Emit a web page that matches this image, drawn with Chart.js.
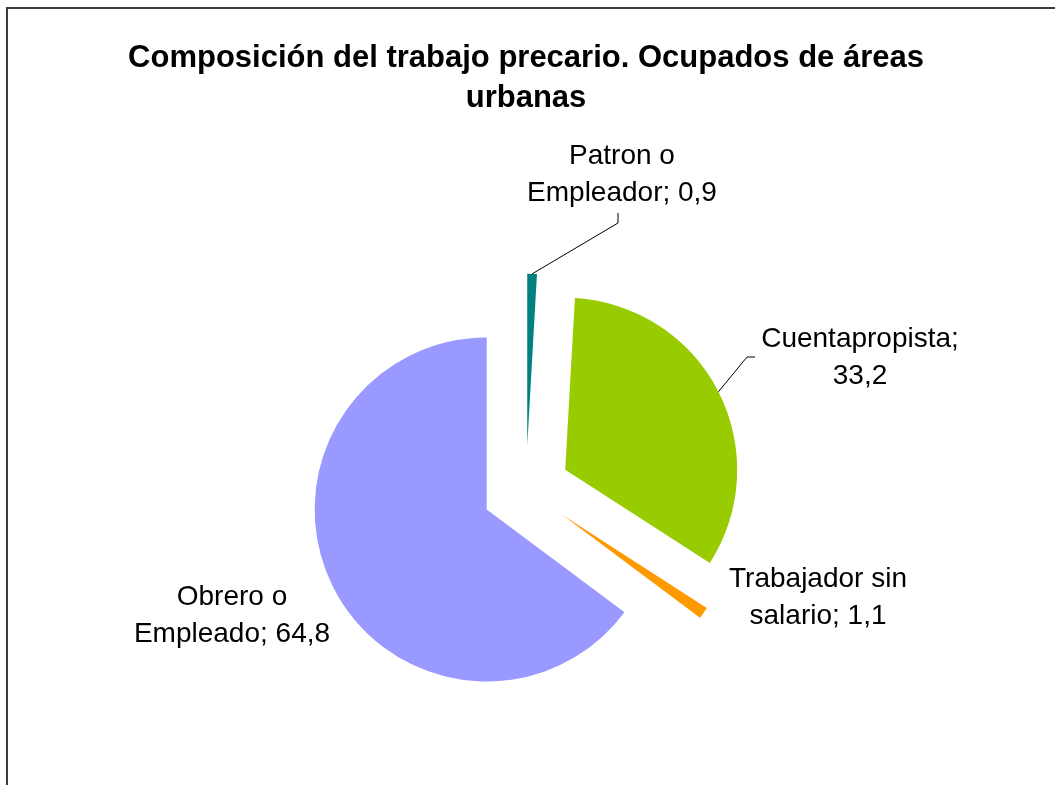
<!DOCTYPE html>
<html>
<head>
<meta charset="utf-8">
<script src="https://cdn.jsdelivr.net/npm/chart.js@4/dist/chart.umd.min.js"></script>
<style>
  html, body { margin: 0; padding: 0; background: #fff; overflow: hidden; }
  #wrap { position: relative; width: 1055px; height: 785px; }
  #frame {
    position: absolute; left: 6px; top: 7px; width: 1200px; height: 900px;
    border-left: 2px solid #3a3a3a; border-top: 2px solid #3a3a3a;
  }
  #chart { position: absolute; left: 0; top: 0; }
</style>
</head>
<body>
<div id="wrap">
  <div id="frame"></div>
  <canvas id="chart" width="1055" height="785"></canvas>
</div>
<script>
  "use strict";

  var TITLE = ["Composición del trabajo precario. Ocupados de áreas", "urbanas"];
  var CATEGORIES = ["Patron o Empleador", "Cuentapropista", "Trabajador sin salario", "Obrero o Empleado"];
  var VALUES = [0.9, 33.2, 1.1, 64.8];
  var COLORS = ["#008080", "#99cc00", "#ff9900", "#9999ff"];

  var FONT = "'Liberation Sans', Arial, sans-serif";
  var EXPLODE = 44;
  var RADIUS = 172;

  // where each label sits, and the elbow of its leader line (null = no leader)
  var LABEL_LAYOUT = [
    { x: 622, y: 156, leader: [[618, 223], [618, 213]] },
    { x: 860, y: 339, leader: [[747, 357], [755, 357]] },
    { x: 818, y: 579, leader: null },
    { x: 232, y: 597, leader: null }
  ];
  var LABEL_SIZE = 28;
  var LABEL_LINE = 37;
  var LABEL_WRAP = 210;

  function fmt(v) {
    return String(v).replace(".", ",");
  }

  function wrapText(ctx, text, maxWidth) {
    var words = text.split(" ");
    var lines = [];
    var cur = "";
    words.forEach(function (w) {
      var test = cur ? cur + " " + w : w;
      if (cur && ctx.measureText(test).width > maxWidth) {
        lines.push(cur);
        cur = w;
      } else {
        cur = test;
      }
    });
    if (cur) lines.push(cur);
    return lines;
  }

  // pull every slice away from the centre along its mid angle
  var explodePlugin = {
    id: "explode",
    beforeDatasetDraw: function (chart, args) {
      var area = chart.chartArea;
      var cx = (area.left + area.right) / 2;
      var cy = (area.top + area.bottom) / 2;
      args.meta.data.forEach(function (arc) {
        var mid = (arc.startAngle + arc.endAngle) / 2;
        arc.x = cx + EXPLODE * Math.cos(mid);
        arc.y = cy + EXPLODE * Math.sin(mid);
      });
    }
  };

  var labelPlugin = {
    id: "sliceLabels",
    afterDatasetsDraw: function (chart) {
      var ctx = chart.ctx;
      var meta = chart.getDatasetMeta(0);
      ctx.save();
      ctx.font = LABEL_SIZE + "px " + FONT;
      ctx.fillStyle = "#000";
      ctx.textAlign = "center";
      ctx.textBaseline = "middle";
      ctx.strokeStyle = "#000";
      ctx.lineWidth = 1;
      meta.data.forEach(function (arc, i) {
        var lay = LABEL_LAYOUT[i];
        if (lay.leader) {
          var mid = (arc.startAngle + arc.endAngle) / 2;
          ctx.beginPath();
          ctx.moveTo(arc.x + arc.outerRadius * Math.cos(mid), arc.y + arc.outerRadius * Math.sin(mid));
          lay.leader.forEach(function (p) { ctx.lineTo(p[0], p[1]); });
          ctx.stroke();
        }
        var text = CATEGORIES[i] + "; " + fmt(VALUES[i]);
        wrapText(ctx, text, LABEL_WRAP).forEach(function (line, k) {
          ctx.fillText(line, lay.x, lay.y + k * LABEL_LINE);
        });
      });
      ctx.restore();
    }
  };

  new Chart(document.getElementById("chart"), {
    type: "pie",
    data: {
      labels: CATEGORIES,
      datasets: [{
        data: VALUES,
        backgroundColor: COLORS,
        borderWidth: 0,
        radius: RADIUS
      }]
    },
    options: {
      responsive: false,
      animation: false,
      layout: { padding: { left: 0, right: 3, top: 0, bottom: 0 } },
      plugins: {
        legend: { display: false },
        tooltip: { enabled: false },
        title: {
          display: true,
          text: TITLE,
          color: "#000",
          font: { family: FONT, size: 31, weight: "bold", lineHeight: 1.3 },
          padding: { top: 38, bottom: 76 }
        }
      }
    },
    plugins: [explodePlugin, labelPlugin]
  });
</script>
</body>
</html>
